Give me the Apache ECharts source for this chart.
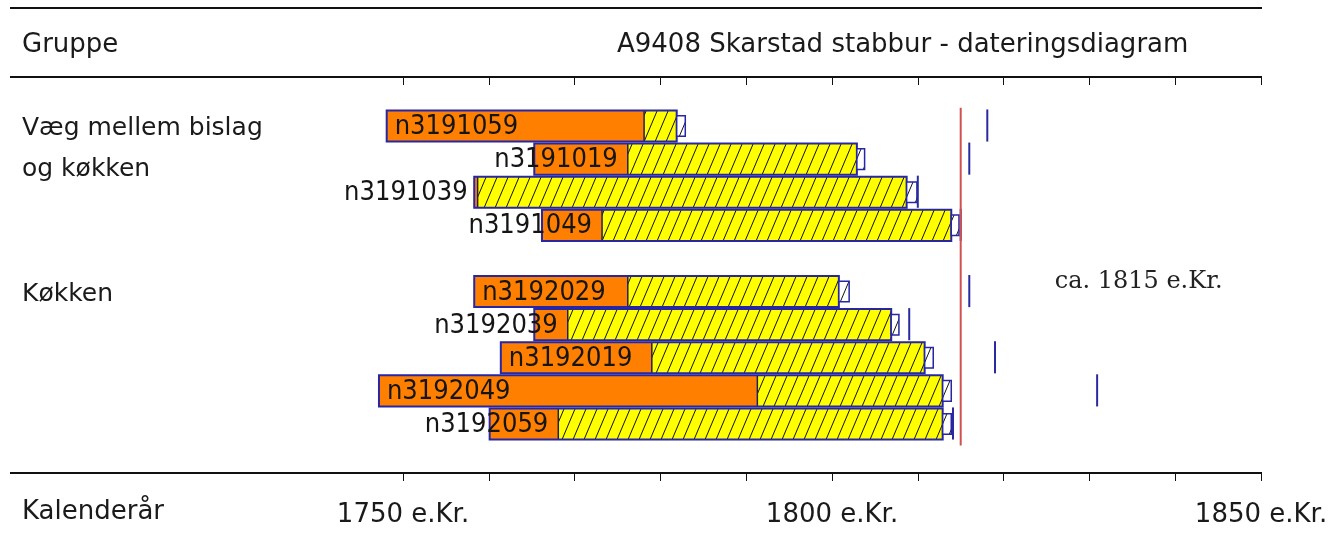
<!DOCTYPE html>
<html><head><meta charset="utf-8">
<script src="https://cdn.jsdelivr.net/npm/echarts@6/dist/echarts.min.js"></script>
<style>html,body{margin:0;padding:0;background:#fff}#c{width:1331px;height:535px}</style>
</head><body><div id="c"></div>
<script>
// ---- data ----
const samples = ['n3191059','n3191019','n3191039','n3191049','n3192029','n3192039','n3192019','n3192049','n3192059'];
const rowSlots = [0,1,2,3,5,6,7,8,9];
const groupNames = ['Væg mellem bislag\nog køkken','Køkken'];
const groupSlots = [0,5];
const firstRing    = [1748.1,1765.3,1758.3,1766.2,1758.3,1765.3,1761.4,1747.2,1760.1];
const heartwoodEnd = [1778.1,1776.2,1758.7,1773.2,1776.2,1769.2,1779.0,1791.3,1768.1];
const sapwoodEnd   = [1781.9,1802.9,1808.7,1813.9,1800.8,1806.9,1810.8,1812.9,1812.9];
const lastRingEnd  = [1782.9,1803.8,1809.9,1814.8,1802.0,1807.8,1811.8,1813.9,1813.9];
const fellingMark  = [1818.1,1816.0,1810.0,1815.0,1816.0,1809.0,1819.0,1830.9,1814.1];
const datingYear = 1815;
const xLabelYears = [1750, 1800, 1850];
const titleText = 'A9408 Skarstad stabbur - dateringsdiagram';

// ---- styles ----
const ORANGE = '#FF8000', BLUE = '#2626a6', TICKBLUE = '#2a2aa0', RED = '#d25050';
const HEAD_FONT = '"DejaVu Sans", sans-serif';
const LABEL_FONT = '27px "DejaVu Sans Condensed", "DejaVu Sans", sans-serif';
const TEXT_COLOR = '#1a1a1a';

function hatch(bg) {
  const w = 11, h = 26;
  const c = document.createElement('canvas'); c.width = w; c.height = h;
  const g = c.getContext('2d');
  g.fillStyle = bg; g.fillRect(0, 0, w, h);
  g.strokeStyle = '#111'; g.lineWidth = 1;
  for (const dx of [-w, 0, w]) {
    g.beginPath(); g.moveTo(dx, h); g.lineTo(dx + w, 0); g.stroke();
  }
  return c;
}
const yellowHatch = hatch('#FFFF00');
const whiteHatch = hatch('#FFFFFF');
const mctx = document.createElement('canvas').getContext('2d');
mctx.font = LABEL_FONT;

function renderBar(params, api) {
  const slot = api.value(0);
  const p0 = api.coord([api.value(1), slot]);
  const xs = p0[0], yc = p0[1];
  const xh = api.coord([api.value(2), slot])[0];
  const xw = api.coord([api.value(3), slot])[0];
  const xl = api.coord([api.value(4), slot])[0];
  const xm = api.coord([api.value(5), slot])[0];
  const rowH = api.size([0, 1])[1];
  const bh = rowH * 0.94, boxH = rowH * 0.62;
  const top = yc - bh / 2;
  const name = samples[params.dataIndex];
  const tw = mctx.measureText(name).width;
  let tx, align;
  if (xh - xs >= tw + 16) { tx = xs + 8; align = 'left'; } else { tx = xh - 10; align = 'right'; }
  return {type: 'group', children: [
    {type: 'rect', shape: {x: xs, y: top, width: xh - xs, height: bh}, style: {fill: ORANGE}},
    {type: 'rect', shape: {x: xh, y: top, width: xw - xh, height: bh}, style: {fill: {image: yellowHatch, repeat: 'repeat'}}},
    {type: 'line', shape: {x1: xh, y1: top, x2: xh, y2: top + bh}, style: {stroke: '#1e1e55', lineWidth: 1.5}},
    {type: 'rect', shape: {x: xs, y: top, width: xw - xs, height: bh}, style: {fill: null, stroke: BLUE, lineWidth: 2}},
    {type: 'rect', shape: {x: xw, y: yc - boxH / 2, width: xl - xw, height: boxH}, style: {fill: {image: whiteHatch, repeat: 'repeat'}, stroke: BLUE, lineWidth: 1.5}},
    {type: 'line', shape: {x1: xm, y1: top - 1, x2: xm, y2: top + bh}, style: {stroke: TICKBLUE, lineWidth: 2}},
    {type: 'text', style: {x: tx, y: yc + 1, text: name, align: align, verticalAlign: 'middle', font: LABEL_FONT, fill: '#151515'}}
  ]};
}

function renderDating(params, api) {
  const a = api.coord([api.value(0), -0.55]);
  const b = api.coord([api.value(0), 9.65]);
  const ty = api.coord([api.value(0), 5])[1];
  return {type: 'group', children: [
    {type: 'line', shape: {x1: a[0], y1: a[1], x2: b[0], y2: b[1]}, style: {stroke: RED, lineWidth: 2}},
    {type: 'text', style: {x: a[0] + 94, y: ty - 10, text: 'ca. ' + api.value(0) + ' e.Kr.', align: 'left', verticalAlign: 'middle',
      font: '24px "DejaVu Serif", serif', fill: '#222'}}
  ]};
}

function renderGroup(params, api) {
  const y = api.coord([1750, api.value(0)])[1];
  return {type: 'text', style: {x: 22, y: y - 18, text: groupNames[params.dataIndex], align: 'left', verticalAlign: 'top',
    font: '25px ' + HEAD_FONT, lineHeight: 41, fill: TEXT_COLOR}};
}

const chart = echarts.init(document.getElementById('c'), null, {renderer: 'canvas'});
chart.setOption({
  animation: false,
  backgroundColor: '#fff',
  grid: {left: 403, right: 70, top: 77, bottom: 62},
  xAxis: [
    {type: 'value', min: 1750, max: 1850, interval: 10, position: 'bottom',
     axisLine: {show: false, onZero: false}, splitLine: {show: false},
     axisTick: {show: true, inside: false, length: 8, lineStyle: {color: '#111', width: 1}},
     axisLabel: {show: true, margin: 29, fontSize: 26, fontFamily: HEAD_FONT, color: TEXT_COLOR,
       formatter: v => xLabelYears.includes(v) ? v + ' e.Kr.' : ''}},
    {type: 'value', min: 1750, max: 1850, interval: 10, position: 'top',
     axisLine: {show: false, onZero: false}, splitLine: {show: false},
     axisTick: {show: true, inside: true, length: 8, lineStyle: {color: '#111', width: 1}},
     axisLabel: {show: false}}
  ],
  yAxis: {type: 'value', min: -1.48, max: 10.48, inverse: true, show: false},
  graphic: [
    {type: 'line', shape: {x1: 10, y1: 8, x2: 1262, y2: 8}, style: {stroke: '#111', lineWidth: 2}},
    {type: 'line', shape: {x1: 10, y1: 77, x2: 1262, y2: 77}, style: {stroke: '#111', lineWidth: 2}},
    {type: 'line', shape: {x1: 10, y1: 473, x2: 1262, y2: 473}, style: {stroke: '#111', lineWidth: 2}},
    {type: 'text', x: 22, y: 45, style: {text: 'Gruppe', font: '26px ' + HEAD_FONT, fill: TEXT_COLOR, verticalAlign: 'middle'}},
    {type: 'text', x: 617, y: 45, style: {text: titleText, font: '26px ' + HEAD_FONT, fill: TEXT_COLOR, verticalAlign: 'middle'}},
    {type: 'text', x: 22, y: 512, style: {text: 'Kalenderår', font: '26px ' + HEAD_FONT, fill: TEXT_COLOR, verticalAlign: 'middle'}}
  ],
  series: [
    {type: 'custom', renderItem: renderBar, clip: false,
     encode: {x: [1, 2, 3, 4, 5], y: 0},
     data: samples.map((s, i) => [rowSlots[i], firstRing[i], heartwoodEnd[i], sapwoodEnd[i], lastRingEnd[i], fellingMark[i]])},
    {type: 'custom', renderItem: renderDating, clip: false, encode: {x: 0}, data: [[datingYear]], z: 3},
    {type: 'custom', renderItem: renderGroup, clip: false, encode: {y: 0}, data: groupSlots.map(s => [s])}
  ]
});
</script></body></html>
